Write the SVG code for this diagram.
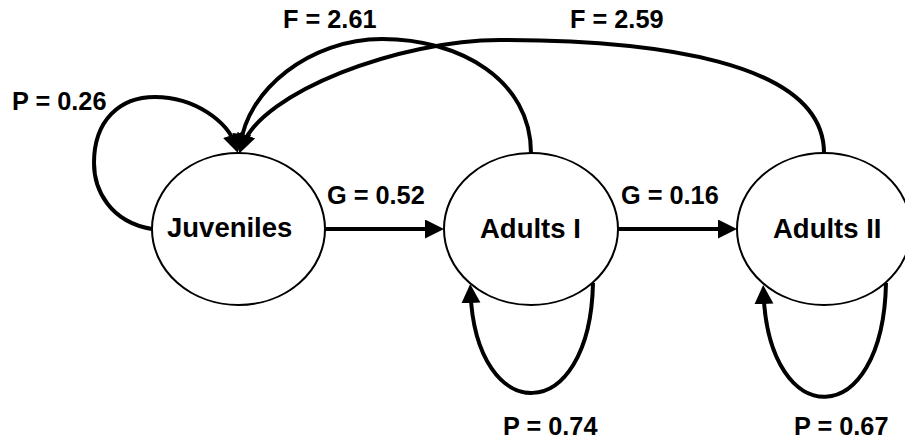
<svg xmlns="http://www.w3.org/2000/svg" width="905" height="441" viewBox="0 0 905 441">
  <style>
    .node { fill: #ffffff; stroke: #000000; stroke-width: 2; }
    .label { font-family: "Liberation Sans", Arial, sans-serif; font-weight: bold; fill: #000000; }
    .nodelabel { font-size: 27.5px; }
    .edgelabel { font-size: 25.3px; }
    .edge { fill: none; stroke: #000000; stroke-width: 4; }
  </style>
  <defs>
    <marker id="arrow" markerUnits="userSpaceOnUse" markerWidth="20" markerHeight="20" refX="11" refY="9.5" orient="auto">
      <path d="M0,0 L19,9.5 L0,19 z" fill="#000000"/>
    </marker>
  </defs>
  <rect width="905" height="441" fill="#ffffff"/>

  <!-- stage nodes -->
  <g id="juveniles">
    <ellipse class="node" cx="238.5" cy="229" rx="86.5" ry="76"/>
    <text class="label nodelabel" x="167" y="237">Juveniles</text>
  </g>
  <g id="adults1">
    <ellipse class="node" cx="531" cy="229" rx="87" ry="76"/>
    <text class="label nodelabel" x="480" y="238">Adults I</text>
  </g>
  <g id="adults2">
    <ellipse class="node" cx="824" cy="229" rx="87" ry="76"/>
    <text class="label nodelabel" x="773" y="238">Adults II</text>
  </g>

  <!-- transitions -->
  <g id="connectors">
    <path class="edge" d="M325,229 L436,229" marker-end="url(#arrow)"/>
    <path class="edge" d="M618,229 L729,229" marker-end="url(#arrow)"/>
    <path class="edge" d="M593,283 C590,428 476,428 470.5,292" marker-end="url(#arrow)"/>
    <path class="edge" d="M886,283 C883,433 769,433 763.5,293" marker-end="url(#arrow)"/>
    <path class="edge" d="M152,229 C110,222 94,190 94,163 C94,120 120,97 155,97 C195,97 228,122 235.5,145.5" marker-end="url(#arrow)"/>
    <path class="edge" d="M531,153 C531,80 460,39 382,39 C310,39 247,90 240.5,145" marker-end="url(#arrow)"/>
    <path class="edge" d="M824,153 C824,60 650,40 500,40 C400,40 262,92 242.5,145.5" marker-end="url(#arrow)"/>
  </g>

  <!-- transition labels -->
  <g id="edge-labels">
    <text class="label edgelabel" x="327" y="204">G = 0.52</text>
    <text class="label edgelabel" x="621" y="204">G = 0.16</text>
    <text class="label edgelabel" x="283" y="28">F = 2.61</text>
    <text class="label edgelabel" x="570" y="28">F = 2.59</text>
    <text class="label edgelabel" x="12" y="110">P = 0.26</text>
    <text class="label edgelabel" x="503" y="435">P = 0.74</text>
    <text class="label edgelabel" x="794" y="435">P = 0.67</text>
  </g>
</svg>
